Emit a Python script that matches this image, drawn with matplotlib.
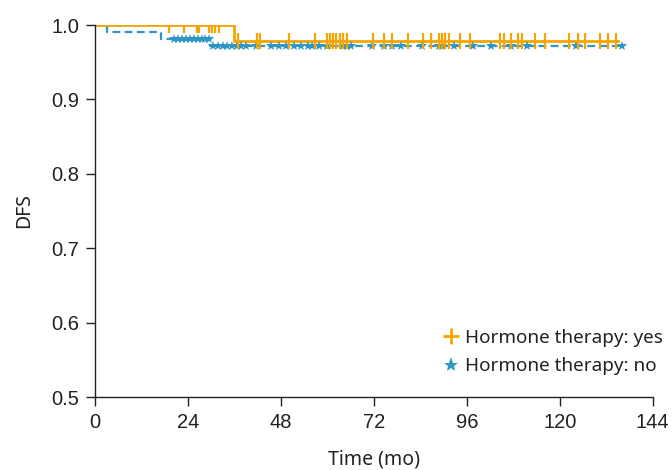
import matplotlib
matplotlib.use("Agg")
import matplotlib.pyplot as plt
import numpy as np

# Survival step data
yes_times = [0, 36.0, 135.0]
yes_surv = [1.0, 0.978, 0.978]
yes_censor = [19.1, 23.0, 26.2, 26.8, 29.4, 30.3, 31.1, 32.0, 37.0, 41.8, 42.6,
              50.0, 56.8, 59.9, 60.6, 61.5, 62.3, 63.3, 64.1, 65.0, 71.8, 74.7,
              76.8, 80.8, 84.6, 86.8, 88.7, 89.6, 90.4, 91.5, 94.1, 96.7,
              104.6, 105.5, 107.4, 109.3, 110.2, 113.6, 116.3, 122.4, 124.8,
              126.6, 130.3, 132.5, 134.4]

no_times = [0, 3.0, 17.0, 29.6, 136.0]
no_surv = [1.0, 0.991, 0.981, 0.972, 0.972]
no_censor = [20.5, 21.5, 22.5, 23.5, 24.5, 25.5, 26.5, 27.5, 28.5, 29.3,
             30.5, 31.8, 33.0, 34.2, 35.4, 36.6, 37.8, 39.0, 41.6, 45.4, 47.6,
             49.3, 51.4, 53.2, 54.9, 56.1, 57.9, 60.0, 63.9, 65.1, 66.0,
             71.6, 74.6, 76.7, 78.9, 84.5, 88.7, 89.6, 92.6,
             97.5, 102.3, 107.4, 111.5, 124.3, 136.1]

x_ticks = [0, 24, 48, 72, 96, 120, 144]
y_ticks = [0.5, 0.6, 0.7, 0.8, 0.9, 1.0]

ORANGE = "#F5A500"
BLUE = "#2F97C6"
DARK = "#222222"

def surv_at(times, surv, t):
    idx = np.searchsorted(times, t, side="right") - 1
    return surv[max(idx, 0)]

fig = plt.figure(figsize=(6.72, 4.70), dpi=100)
ax = fig.add_axes([0.1414, 0.1553, 0.830, 0.7915])

ax.step(no_times, no_surv, where="post", color=BLUE, lw=1.6, ls=(0, (3.5, 2)))
ax.step(yes_times, yes_surv, where="post", color=ORANGE, lw=2.0)

ncy = [surv_at(no_times, no_surv, t) for t in no_censor]
ax.plot(no_censor, ncy, ls="none", marker="*", color=BLUE, ms=7, mew=0)
ycy = [surv_at(yes_times, yes_surv, t) for t in yes_censor]
ax.plot(yes_censor, ycy, ls="none", marker="|", color=ORANGE, ms=11, mew=1.6)

ax.set_xlim(0, 144)
ax.set_ylim(0.5, 1.0)
ax.set_xticks(x_ticks)
ax.set_yticks(y_ticks)
ax.set_yticklabels([f"{v:.1f}" for v in y_ticks])
for s in ["top", "right"]:
    ax.spines[s].set_visible(False)
for s in ["left", "bottom"]:
    ax.spines[s].set_color(DARK)
    ax.spines[s].set_linewidth(1.0)
ax.tick_params(axis="both", labelsize=14.5, color=DARK, labelcolor=DARK,
               length=6.5, width=1.0, pad=5)
for lab in ax.get_xticklabels() + ax.get_yticklabels():
    lab.set_family("Liberation Sans")
ax.set_xlabel("Time (mo)", fontsize=14, color=DARK, family="Noto Sans", labelpad=12.5)
ax.set_ylabel("DFS", fontsize=14, color=DARK, family="Noto Sans", labelpad=12.5)

h1, = ax.plot([], [], ls="none", marker="+", color=ORANGE, ms=12, mew=2)
h2, = ax.plot([], [], ls="none", marker="*", color=BLUE, ms=11, mew=0)
leg = fig.legend([h1, h2], ["Hormone therapy: yes", "Hormone therapy: no"],
                 loc="center left", bbox_to_anchor=(0.634, 0.251), frameon=False,
                 prop={"family": "Noto Sans", "size": 13.6}, handlelength=0.8,
                 handletextpad=0.35, labelspacing=0.55, labelcolor=DARK)

fig.savefig("out.png", dpi=100)
